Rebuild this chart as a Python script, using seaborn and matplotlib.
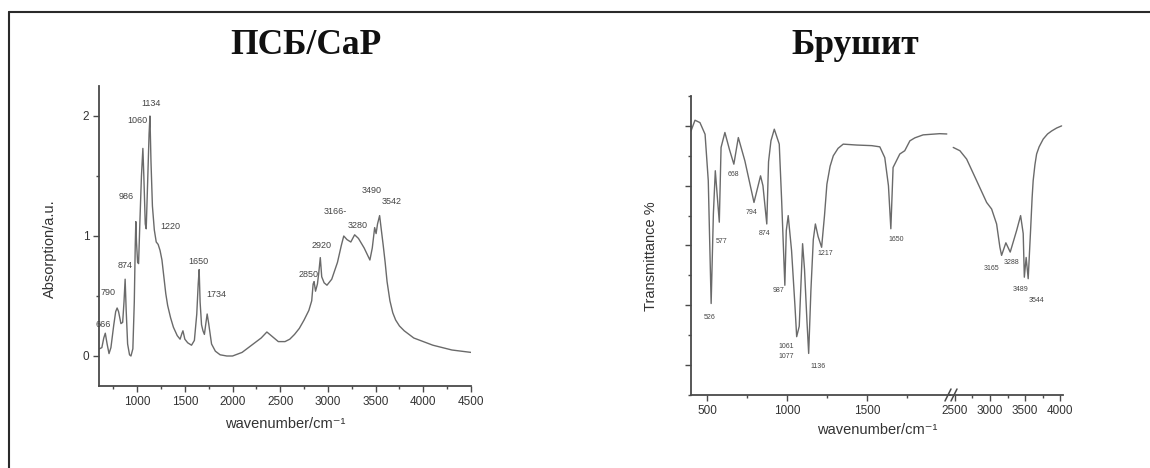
import matplotlib
matplotlib.use("Agg")
import matplotlib.pyplot as plt
from matplotlib.lines import Line2D
from matplotlib.ticker import MultipleLocator, FixedLocator, NullFormatter
import pandas as pd
import seaborn as sns

# ---------------- data ----------------
psb_wavenumber = [605, 630, 650, 666, 685, 705, 725, 755, 775, 790, 805, 830, 848, 862, 874, 885,
                  900, 920, 935, 955, 970, 980, 986, 993, 1005, 1015, 1030, 1045, 1060, 1070,
                  1085, 1095, 1110, 1125, 1134, 1145, 1160, 1180, 1200, 1220, 1240, 1260, 1280,
                  1300, 1320, 1350, 1380, 1420, 1450, 1470, 1480, 1500, 1530, 1570, 1600, 1625,
                  1640, 1650, 1660, 1675, 1690, 1705, 1720, 1734, 1750, 1780, 1820, 1870, 1940,
                  2000, 2100, 2200, 2300, 2360, 2420, 2480, 2550, 2600, 2650, 2700, 2750, 2800,
                  2830, 2845, 2855, 2870, 2890, 2905, 2920, 2935, 2960, 2990, 3040, 3100, 3140,
                  3166, 3200, 3240, 3280, 3320, 3380, 3440, 3465, 3490, 3505, 3520, 3542, 3560,
                  3580, 3600, 3620, 3650, 3680, 3710, 3750, 3800, 3900, 4000, 4100, 4200, 4300,
                  4400, 4500]
psb_absorption = [0.06, 0.07, 0.15, 0.19, 0.10, 0.02, 0.07, 0.26, 0.37, 0.40, 0.37, 0.27, 0.28, 0.45, 0.64, 0.38,
                  0.10, 0.01, 0.00, 0.06, 0.45, 0.92, 1.12, 0.95, 0.78, 0.77, 1.15, 1.50, 1.73, 1.50,
                  1.10, 1.06, 1.45, 1.85, 2.00, 1.62, 1.25, 1.05, 0.95, 0.93, 0.88, 0.80, 0.66,
                  0.52, 0.42, 0.32, 0.24, 0.17, 0.14, 0.19, 0.21, 0.14, 0.11, 0.09, 0.13, 0.35,
                  0.60, 0.72, 0.45, 0.26, 0.21, 0.18, 0.27, 0.35, 0.27, 0.10, 0.04, 0.01, 0.00,
                  0.00, 0.03, 0.09, 0.15, 0.20, 0.16, 0.12, 0.12, 0.14, 0.18, 0.23, 0.30, 0.38,
                  0.46, 0.60, 0.62, 0.54, 0.60, 0.70, 0.82, 0.66, 0.61, 0.59, 0.64, 0.78, 0.92,
                  1.00, 0.97, 0.95, 1.01, 0.98, 0.90, 0.80, 0.90, 1.07, 1.02, 1.10, 1.17, 1.05,
                  0.92, 0.78, 0.62, 0.46, 0.36, 0.30, 0.25, 0.21, 0.15, 0.12, 0.09, 0.07, 0.05,
                  0.04, 0.03]

psb_peak_labels = ["666", "790", "874", "986", "1060", "1134", "1220", "1650", "1734",
                   "2850", "2920", "3166-", "3280", "3490", "3542"]
psb_label_wn = [640, 690, 870, 890, 1000, 1150, 1345, 1645, 1830, 2795, 2938, 3080, 3315, 3460, 3670]
psb_label_abs = [0.26, 0.53, 0.75, 1.33, 1.96, 2.10, 1.08, 0.79, 0.51, 0.68, 0.92, 1.20, 1.09, 1.38, 1.29]

brushite_wn_low = [400, 425, 456, 488, 508, 526, 540, 552, 577, 588, 612, 640, 668, 696, 737, 794,
                   835, 850, 874, 885, 900, 921, 952, 967, 987, 996, 1008, 1029, 1050, 1061, 1077,
                   1090, 1098, 1110, 1125, 1136, 1150, 1165, 1178, 1195, 1217, 1235, 1250, 1270,
                   1290, 1320, 1352, 1436, 1530, 1581, 1612, 1635, 1650, 1664, 1706, 1737, 1769,
                   1800, 1852, 1956, 2000]
brushite_t_low = [98.3, 101.9, 101.1, 97.2, 81.7, 40.6, 70.6, 85.0, 67.8, 92.8, 97.8, 92.2, 87.2, 96.1, 88.3, 74.4,
                  83.3, 80.0, 67.2, 88.0, 95.0, 98.9, 93.9, 75.0, 46.7, 65.0, 70.0, 58.3, 40.0, 29.5, 33.0,
                  50.0, 60.6, 52.0, 35.0, 23.9, 45.0, 62.0, 67.2, 63.0, 59.4, 70.0, 80.5, 86.5,
                  90.0, 92.5, 93.9, 93.6, 93.4, 93.0, 89.4, 80.0, 65.6, 86.1, 90.6, 91.7, 95.0,
                  96.0, 97.0, 97.4, 97.3]
brushite_wn_high = [2476, 2571, 2667, 2809, 2952, 3023, 3094, 3141, 3165, 3226, 3288, 3379, 3436,
                    3473, 3489, 3515, 3544, 3578, 3600, 3615, 3640, 3664, 3700, 3758, 3820, 3878,
                    3950, 4020]
brushite_t_high = [92.8, 91.7, 88.9, 81.7, 74.4, 72.2, 67.2, 59.4, 56.7, 60.9, 57.8, 65.0, 70.0,
                   64.0, 49.4, 56.0, 48.9, 65.0, 76.0, 81.7, 87.0, 90.6, 93.0, 95.6, 97.3, 98.3,
                   99.3, 100.0]

br_low_labels = ["526", "577", "668", "794", "874", "987", "1061", "1077", "1136", "1217", "1650"]
br_low_label_wn = [514, 592, 665, 779, 862, 946, 998, 998, 1196, 1237, 1686]
br_low_label_t = [35.9, 61.3, 83.9, 71.1, 63.9, 45.0, 26.1, 22.8, 19.4, 57.4, 61.9]
br_high_labels = ["3165", "3288", "3489", "3544"]
br_high_label_wn = [3023, 3308, 3440, 3664]
br_high_label_t = [52.2, 54.4, 45.3, 41.7]

psb_ticks = [1000, 1500, 2000, 2500, 3000, 3500, 4000, 4500]
br_ticks_low = [500, 1000, 1500]
br_ticks_high = [2500, 3000, 3500, 4000]

# ---------------- style ----------------
sns.set_theme(style="ticks")
plt.rcParams['font.family'] = ['Liberation Sans', 'DejaVu Sans']

W, H = 1150, 468
LINE = '#6a6a6a'
AX = '#4a4a4a'
TXT = '#333333'

fig = plt.figure(figsize=(W / 100, H / 100), dpi=100)
fig.patch.set_facecolor('white')


def px_axes(x0, y_top, x1, y_bot):
    return [x0 / W, (H - y_bot) / H, (x1 - x0) / W, (y_bot - y_top) / H]


def style_axis(ax):
    for s in ['top', 'right']:
        ax.spines[s].set_visible(False)
    for s in ['left', 'bottom']:
        ax.spines[s].set_color(AX)
        ax.spines[s].set_linewidth(1.3)
    ax.tick_params(which='major', direction='out', length=4, width=1, color=AX,
                   labelsize=8.5, labelcolor=TXT, pad=3)
    ax.tick_params(which='minor', direction='out', length=2.5, width=1, color=AX)
    ax.set_facecolor('none')


# ---------------- left panel ----------------
axL = fig.add_axes(px_axes(99, 86, 471, 386))
df_psb = pd.DataFrame({'wavenumber': psb_wavenumber, 'absorption': psb_absorption})
sns.lineplot(data=df_psb, x='wavenumber', y='absorption', ax=axL, color=LINE,
             linewidth=1.0, sort=False, estimator=None)
axL.set_xlim(600, 4500)
axL.set_ylim(-0.25, 2.25)
axL.xaxis.set_major_locator(FixedLocator(psb_ticks))
axL.xaxis.set_minor_locator(MultipleLocator(250))
axL.yaxis.set_major_locator(FixedLocator([0, 1, 2]))
axL.yaxis.set_minor_locator(MultipleLocator(0.5))
style_axis(axL)
axL.set_xlabel('wavenumber/cm⁻¹', fontsize=10.5, color=TXT)
axL.set_ylabel('Absorption/a.u.', fontsize=10.5, color=TXT)
axL.xaxis.set_label_coords(0.5, -0.105)
axL.yaxis.set_label_coords(-0.113, 0.457)
for lab, xw, ya in zip(psb_peak_labels, psb_label_wn, psb_label_abs):
    axL.text(xw, ya, lab, fontsize=6.5, color='#444444', ha='center', va='center')

# ---------------- right panel ----------------
axR1 = fig.add_axes(px_axes(691, 96, 950, 395))
axR2 = fig.add_axes(px_axes(950, 96, 1063, 395))
df_low = pd.DataFrame({'wavenumber': brushite_wn_low, 'transmittance': brushite_t_low})
df_high = pd.DataFrame({'wavenumber': brushite_wn_high, 'transmittance': brushite_t_high})
sns.lineplot(data=df_low, x='wavenumber', y='transmittance', ax=axR1, color=LINE,
             linewidth=1.0, sort=False, estimator=None)
sns.lineplot(data=df_high, x='wavenumber', y='transmittance', ax=axR2, color=LINE,
             linewidth=1.0, sort=False, estimator=None)
axR1.set_xlim(400, 2020)
axR2.set_xlim(2430, 4040)
for ax in (axR1, axR2):
    ax.set_ylim(10, 110)
    style_axis(ax)
    ax.set_xlabel('')
    ax.set_ylabel('')
axR1.xaxis.set_major_locator(FixedLocator(br_ticks_low))
axR1.xaxis.set_minor_locator(FixedLocator([750, 1250, 1750]))
axR2.xaxis.set_major_locator(FixedLocator(br_ticks_high))
axR2.xaxis.set_minor_locator(FixedLocator([2750, 3250, 3750]))
axR1.yaxis.set_major_locator(MultipleLocator(20))
axR1.yaxis.set_minor_locator(MultipleLocator(10))
axR1.yaxis.set_major_formatter(NullFormatter())
axR1.tick_params(axis='y', which='major', length=4)
axR2.spines['left'].set_visible(False)
axR2.tick_params(axis='y', which='both', left=False, labelleft=False)
axR1.set_ylabel('Transmittance %', fontsize=10.5, color=TXT)
axR1.yaxis.set_label_coords(-0.127, 0.465)
fig.text((691 + 1063) / 2 / W, 1 - 430 / H, 'wavenumber/cm⁻¹', fontsize=10.5, color=TXT,
         ha='center', va='center')

for lab, xw, yt in zip(br_low_labels, br_low_label_wn, br_low_label_t):
    axR1.text(xw, yt, lab, fontsize=5, color='#444444', ha='center', va='center')
for lab, xw, yt in zip(br_high_labels, br_high_label_wn, br_high_label_t):
    axR2.text(xw, yt, lab, fontsize=5, color='#444444', ha='center', va='center')

# axis break marks
for dx in (0, 6):
    fig.add_artist(Line2D([(945 + dx) / W, (951 + dx) / W], [1 - 401 / H, 1 - 389 / H],
                          color=AX, linewidth=1.1))

# ---------------- titles ----------------
fig.text(306 / W, 1 - 54 / H, 'ПСБ/CaP', fontsize=25.5, fontweight='bold',
         family=['Liberation Serif', 'DejaVu Serif'], ha='center', va='baseline', color='#111111')
fig.text(855 / W, 1 - 54 / H, 'Брушит', fontsize=25.5, fontweight='bold',
         family=['Liberation Serif', 'DejaVu Serif'], ha='center', va='baseline', color='#111111')

# ---------------- slide frame ----------------
fig.add_artist(Line2D([9 / W, 9 / W], [0, 1 - 12 / H], color='#2a2a2a', linewidth=1.5))
fig.add_artist(Line2D([9 / W, 1], [1 - 12 / H, 1 - 12 / H], color='#2a2a2a', linewidth=1.5))

fig.savefig('out.png', dpi=100, facecolor='white')
